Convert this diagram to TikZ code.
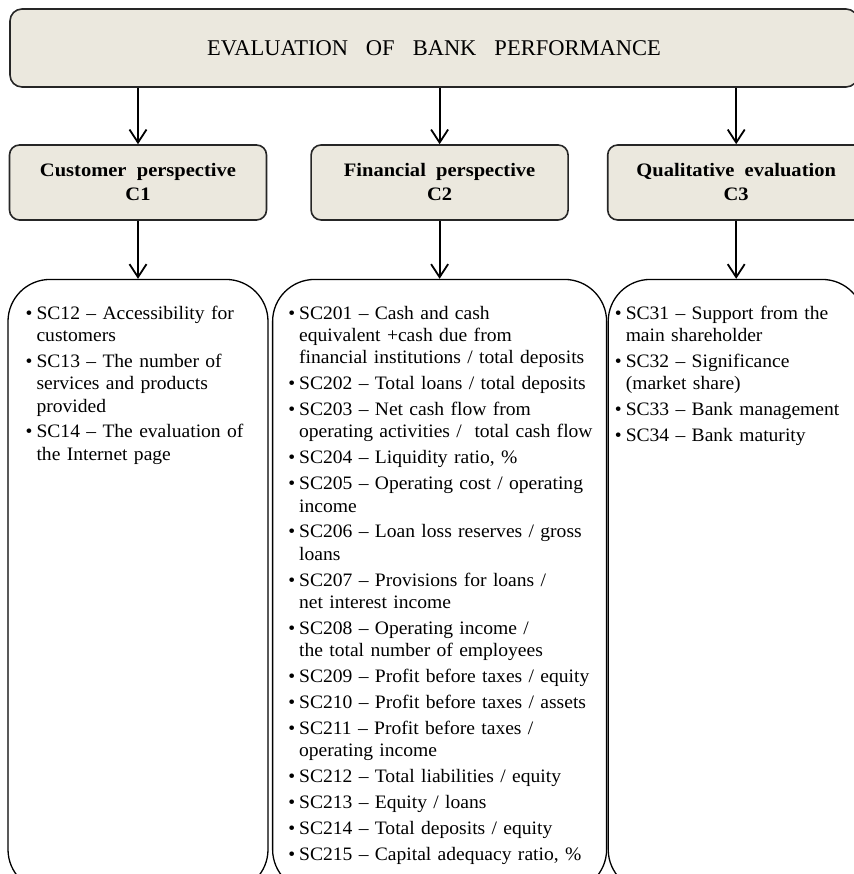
\documentclass[tikz,border=0pt]{standalone}
\usepackage{fontspec}
\setmainfont{Liberation Serif}[FakeStretch=1.03, BoldFeatures={FakeStretch=1.08}]
\newfontfamily\titlefont{Liberation Serif}
\usepackage{enumitem}
\usetikzlibrary{positioning,arrows.meta}
\definecolor{boxfill}{RGB}{235,232,222}
\setlist[itemize]{nosep, itemsep=3.6pt, leftmargin=10pt, labelsep=4pt, label=\textbullet}

\begin{document}
\begin{tikzpicture}[x=1pt,y=1pt]
    \tikzset{
        hbox/.style={draw=black!85, line width=1.6pt, rounded corners=10pt, fill=boxfill},
        head/.style={hbox, minimum width=257pt, minimum height=75pt, align=center, font=\bfseries\fontsize{19}{24}\selectfont},
        lbox/.style={draw, line width=1.3pt, rounded corners=42pt, minimum height=612pt, fill=white},
        ltext/.style={inner sep=0pt, text width=330pt, align=left, font=\fontsize{19}{22.3}\selectfont},
        arr/.style={line width=1.8pt, -{Straight Barb[length=13pt, width=17pt]}}
        }
    \useasboundingbox (0,0) rectangle (853,874);

    %evaluation
    \node (eval) [hbox, rounded corners=12pt, minimum width=848pt, minimum height=78pt, font=\titlefont\fontsize{22.5}{26}\selectfont] at (434,826) {EVALUATION\hspace{18pt}OF\hspace{18pt}BANK\hspace{18pt}PERFORMANCE\hspace{10pt}};

    %perspectives
    \node (c1) [head] at (138,691.5) {Customer\ \ perspective\\C1};
    \node (c2) [head, right=43pt of c1] {Financial\ \ perspective\\C2};
    \node (c3) [head, right=38pt of c2] {Qualitative\ \ evaluation\\C3};

    %criteria boxes
    \node (l1) [lbox, minimum width=260pt, below=58pt of c1] {};
    \node (l2) [lbox, minimum width=334pt, below=58pt of c2] {};
    \node (l3) [lbox, minimum width=256pt, below=58pt of c3] {};

    \draw[arr] (eval.south -| c1) -- (c1.north);
    \draw[arr] (eval.south -| c2) -- (c2.north);
    \draw[arr] (eval.south -| c3) -- (c3.north);

    \draw[arr] (c1.south) -- (l1.north);
    \draw[arr] (c2.south) -- (l2.north);
    \draw[arr] (c3.south) -- (l3.north);

    %sub-criteria
    \node (t1) [ltext, below right=18pt and 19pt of l1.north west] {
        \begin{itemize}
        \item SC12 -- Accessibility for\newline customers
        \item SC13 -- The number of\newline services and products\newline provided
        \item SC14 -- The evaluation of\newline the Internet page
        \end{itemize}};

    \node (t2) [ltext, below right=18pt and 17pt of l2.north west] {
        \begin{itemize}
        \item SC201 -- Cash and cash\newline equivalent +cash due from\newline financial institutions / total deposits
        \item SC202 -- Total loans / total deposits
        \item SC203 -- Net cash flow from\newline operating activities /\ \ total cash flow
        \item SC204 -- Liquidity ratio, \%
        \item SC205 -- Operating cost / operating\newline income
        \item SC206 -- Loan loss reserves / gross\newline loans
        \item SC207 -- Provisions for loans /\newline net interest income
        \item SC208 -- Operating income /\newline the total number of employees
        \item SC209 -- Profit before taxes / equity
        \item SC210 -- Profit before taxes / assets
        \item SC211 -- Profit before taxes /\newline operating income
        \item SC212 -- Total liabilities / equity
        \item SC213 -- Equity / loans
        \item SC214 -- Total deposits / equity
        \item SC215 -- Capital adequacy ratio, \%
        \end{itemize}};

    \node (t3) [ltext, below right=18pt and 8pt of l3.north west] {
        \begin{itemize}
        \item SC31 -- Support from the\newline main shareholder
        \item SC32 -- Significance\newline (market share)
        \item SC33 -- Bank management
        \item SC34 -- Bank maturity
        \end{itemize}};
\end{tikzpicture}
\end{document}
